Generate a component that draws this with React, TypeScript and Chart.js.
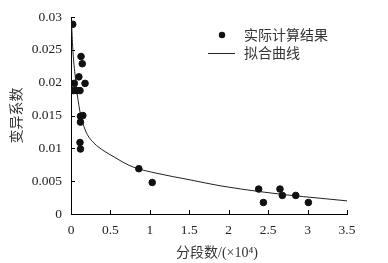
import React, { useEffect, useRef } from "react";
import { Chart, registerables } from "chart.js";

Chart.register(...registerables);

// measured results (x in ×10^4 segments, y = coefficient of variation)
const measuredX = [0.022, 0.127, 0.143, 0.1, 0.042, 0.178, 0.03, 0.072, 0.114, 0.12, 0.15, 0.12, 0.114, 0.12, 0.86, 1.03, 2.38, 2.44, 2.65, 2.68, 2.85, 3.01];
const measuredY = [0.0289, 0.024, 0.0229, 0.0209, 0.0199, 0.0199, 0.0188, 0.0188, 0.0188, 0.0149, 0.015, 0.014, 0.0109, 0.0099, 0.0069, 0.0048, 0.0038, 0.00175, 0.0038, 0.00283, 0.00283, 0.00175];

// fitted curve
const fitX = [0.008, 0.025, 0.06, 0.08, 0.12, 0.165, 0.207, 0.292, 0.419, 0.546, 0.673, 0.8, 1.09, 1.51, 1.89, 2.4, 2.74, 3.16, 3.5];
const fitY = [0.0288, 0.0247, 0.0203, 0.0182, 0.0152, 0.0133, 0.0121, 0.0108, 0.0096, 0.0087, 0.0078, 0.0071, 0.0062, 0.0052, 0.0043, 0.0034, 0.0029, 0.0024, 0.002];

const xTickLabels = ["0", "0.5", "1", "1.5", "2", "2.5", "3", "3.5"];
const yTickLabels = ["0", "0.005", "0.01", "0.015", "0.02", "0.025", "0.03"];

const seriesNames = ["实际计算结果", "拟合曲线"];
const xTitle = "分段数/(×10⁴)";
const yTitle = "变异系数";

const SERIF = "'Liberation Serif', 'Noto Sans CJK SC', serif";
const CJK = "'Noto Sans CJK SC', 'Liberation Serif', sans-serif";

const innerTicks = {
  id: "innerTicks",
  afterDraw(chart: any) {
    const { ctx, chartArea } = chart;
    const xs = chart.scales.x;
    const ys = chart.scales.y;
    ctx.save();
    ctx.strokeStyle = "#000";
    ctx.lineWidth = 1;
    ctx.beginPath();
    xs.ticks.forEach((t: any) => {
      const px = Math.round(xs.getPixelForValue(t.value)) + 0.5;
      ctx.moveTo(px, chartArea.bottom);
      ctx.lineTo(px, chartArea.bottom - 4);
    });
    ys.ticks.forEach((t: any) => {
      const py = Math.round(ys.getPixelForValue(t.value)) + 0.5;
      ctx.moveTo(chartArea.left, py);
      ctx.lineTo(chartArea.left + 4, py);
    });
    ctx.stroke();

    // x title
    ctx.fillStyle = "#333";
    ctx.font = "14px " + SERIF;
    ctx.textAlign = "center";
    ctx.textBaseline = "middle";
    ctx.fillText(xTitle, (chartArea.left + chartArea.right) / 2 + 8, 253);

    // legend
    const ds0 = chart.data.datasets[0];
    const ds1 = chart.data.datasets[1];
    const lx = chartArea.right - 125;
    ctx.fillStyle = ds0.backgroundColor;
    ctx.beginPath();
    ctx.arc(lx, 35, 3.2, 0, Math.PI * 2);
    ctx.fill();
    ctx.strokeStyle = ds1.borderColor;
    ctx.beginPath();
    ctx.moveTo(lx - 14, 53.5);
    ctx.lineTo(lx + 13, 53.5);
    ctx.stroke();
    ctx.fillStyle = "#333";
    ctx.font = "14px " + CJK;
    ctx.textAlign = "left";
    ctx.fillText(ds0.label, lx + 22, 35);
    ctx.fillText(ds1.label, lx + 22, 53);
    ctx.restore();
  },
};

export default function App() {
  const ref = useRef<HTMLCanvasElement | null>(null);
  useEffect(() => {
    if (!ref.current) return;
    const chart = new Chart(ref.current, {
      type: "scatter",
      data: {
        datasets: [
          {
            label: seriesNames[0],
            data: measuredX.map((x, i) => ({ x, y: measuredY[i] })),
            backgroundColor: "#111",
            borderColor: "#111",
            pointRadius: 3.3,
            showLine: false,
          },
          {
            label: seriesNames[1],
            data: fitX.map((x, i) => ({ x, y: fitY[i] })),
            borderColor: "#222",
            backgroundColor: "#222",
            borderWidth: 1,
            pointRadius: 0,
            showLine: true,
            cubicInterpolationMode: "monotone",
          },
        ],
      },
      plugins: [innerTicks],
      options: {
        animation: false,
        responsive: false,
        devicePixelRatio: 1,
        layout: { padding: { left: 0, right: 41, top: 12, bottom: 0 } },
        plugins: { legend: { display: false }, tooltip: { enabled: false } },
        scales: {
          x: {
            type: "linear",
            min: 0,
            max: 3.5,
            afterFit: (s: any) => {
              s.height = 49;
            },
            grid: { display: false, drawTicks: false },
            border: { display: true, color: "#000", width: 1 },
            ticks: {
              stepSize: 0.5,
              padding: 8,
              color: "#222",
              font: { family: SERIF, size: 13.5 },
              callback: (_v: any, i: number) => xTickLabels[i],
              maxRotation: 0,
            },
          },
          y: {
            type: "linear",
            min: 0,
            max: 0.03,
            afterFit: (s: any) => {
              s.width = 71;
            },
            grid: { display: false, drawTicks: false },
            border: { display: true, color: "#000", width: 1 },
            ticks: {
              stepSize: 0.005,
              padding: 9,
              color: "#222",
              font: { family: SERIF, size: 13.5 },
              callback: (_v: any, i: number) => yTickLabels[i],
            },
            title: {
              display: true,
              text: yTitle,
              color: "#333",
              font: { family: CJK, size: 14 },
              padding: { top: 7, bottom: 0 },
            },
          },
        },
      },
    } as any);
    return () => chart.destroy();
  }, []);
  return (
    <div style={{ position: "absolute", left: 0, top: 0, width: 388, height: 263, background: "#fff" }}>
      <canvas ref={ref} width={388} height={263} />
    </div>
  );
}
